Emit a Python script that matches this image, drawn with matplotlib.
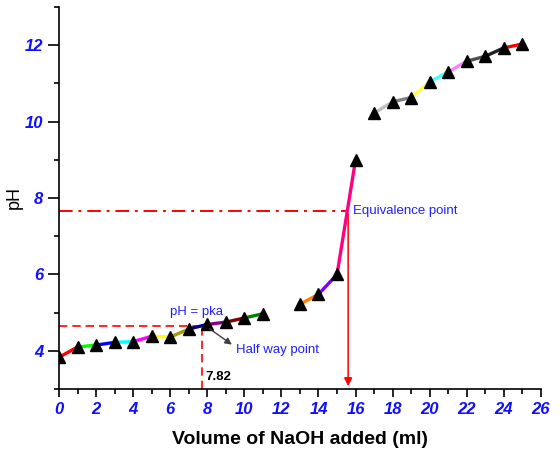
import matplotlib
matplotlib.use("Agg")
import matplotlib.pyplot as plt
from matplotlib.ticker import MultipleLocator

plt.rcParams['font.family'] = ['Liberation Sans', 'DejaVu Sans']

# Data
volume = [0, 1, 2, 3, 4, 5, 6, 7, 8, 9, 10, 11,
          13, 14, 15, 16,
          17, 18, 19, 20, 21, 22, 23, 24, 25]
ph = [3.83, 4.10, 4.15, 4.22, 4.24, 4.38, 4.36, 4.57, 4.69, 4.75, 4.86, 4.97,
      5.22, 5.48, 6.00, 9.00,
      10.22, 10.52, 10.63, 11.04, 11.30, 11.58, 11.71, 11.93, 12.03]
# colour of the segment from point i to point i+1 (None = no line)
seg_colors = ['#ff0000', '#00ff00', '#0000ff', '#00ffff', '#ff00ff', '#ffff00',
              '#a0a000', '#000080', '#800080', '#800000', '#008000',
              None,
              '#ff8000', '#8000ff', '#ff0080',
              None,
              '#c0c0c0', '#808080', '#ffff40', '#40ffff', '#ff80ff',
              '#505050', '#202020', '#ff0000']

half_ph = 4.66
half_x = 7.7
equiv_ph = 7.65
equiv_x = 15.6

fig = plt.figure(figsize=(5.6, 4.57), dpi=100)
ax = fig.add_axes([0.1054, 0.1488, 0.8605, 0.8359])

for i, c in enumerate(seg_colors):
    if c is None:
        continue
    ax.plot(volume[i:i + 2], ph[i:i + 2], color=c, lw=2.4, solid_capstyle='butt', zorder=2)

ax.plot(volume, ph, linestyle='none', marker='^', color='black', markersize=9, zorder=3)

# half-way lines
ax.plot([0, half_x], [half_ph, half_ph], color='red', ls=(0, (5, 3)), lw=1.2, zorder=1)
ax.plot([half_x, half_x], [3, half_ph], color='red', ls=(0, (5, 3)), lw=1.2, zorder=1)
# equivalence lines
ax.plot([0, equiv_x], [equiv_ph, equiv_ph], color='red', ls=(0, (7, 3, 1.5, 3)), lw=1.4, zorder=1)
ax.annotate('', xy=(equiv_x, 3.0), xytext=(equiv_x, equiv_ph),
            arrowprops=dict(arrowstyle='-|>', color='red', lw=1.1, mutation_scale=12),
            zorder=1)

ax.text(7.4, 5.02, 'pH = pka', color='#2020ff', fontsize=9.5, ha='center', va='center')
ax.annotate('', xy=(9.45, 4.12), xytext=(8.0, 4.62),
            arrowprops=dict(arrowstyle='-|>', color='#404040', lw=1.0, mutation_scale=10),
            zorder=4)
ax.text(9.55, 4.02, 'Half way point', color='#2020ff', fontsize=9.5, ha='left', va='center')
ax.text(15.85, equiv_ph, 'Equivalence point', color='#2020ff', fontsize=9.5, ha='left', va='center')
ax.text(7.9, 3.32, '7.82', color='black', fontsize=9.5, fontweight='bold', ha='left', va='center')

ax.set_xlim(0, 26)
ax.set_ylim(3, 13)
ax.spines['top'].set_visible(False)
ax.spines['right'].set_visible(False)
for s in ('left', 'bottom'):
    ax.spines[s].set_linewidth(1.2)

ax.xaxis.set_major_locator(MultipleLocator(2))
ax.xaxis.set_minor_locator(MultipleLocator(1))
ax.set_yticks([4, 6, 8, 10, 12])
ax.set_yticks([3, 5, 7, 9, 11, 13], minor=True)
ax.tick_params(axis='x', which='major', direction='out', length=6, width=1.2)
ax.tick_params(axis='y', which='major', direction='out', length=8, width=1.2)
ax.tick_params(which='minor', direction='out', length=3.5, width=1.2)
for lab in ax.get_xticklabels() + ax.get_yticklabels():
    lab.set_color('#1010ff')
    lab.set_fontweight('bold')
    lab.set_fontstyle('italic')
    lab.set_fontsize(12)

ax.set_xlabel('Volume of NaOH added (ml)', fontsize=14, fontweight='bold', labelpad=10)
ax.set_ylabel('pH', fontsize=13, va='center')
ax.yaxis.set_label_coords(-0.092, 0.5)

fig.savefig('out.png', dpi=100)
